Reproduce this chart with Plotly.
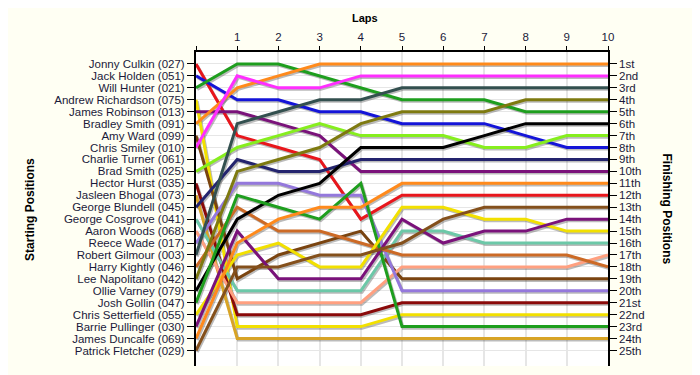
import plotly.graph_objects as go

laps = list(range(11))
lap_labels = ["", "1", "2", "3", "4", "5", "6", "7", "8", "9", "10"]

drivers = ["Jonny Culkin (027)", "Jack Holden (051)", "Will Hunter (021)", "Andrew Richardson (075)",
           "James Robinson (013)", "Bradley Smith (091)", "Amy Ward (099)", "Chris Smiley (010)",
           "Charlie Turner (061)", "Brad Smith (025)", "Hector Hurst (035)", "Jasleen Bhogal (073)",
           "George Blundell (045)", "George Cosgrove (041)", "Aaron Woods (068)", "Reece Wade (017)",
           "Robert Gilmour (003)", "Harry Kightly (046)", "Lee Napolitano (042)", "Ollie Varney (079)",
           "Josh Gollin (047)", "Chris Setterfield (055)", "Barrie Pullinger (030)", "James Duncalfe (069)",
           "Patrick Fletcher (029)"]

finish_labels = ["1st", "2nd", "3rd", "4th", "5th", "6th", "7th", "8th", "9th", "10th", "11th", "12th",
                 "13th", "14th", "15th", "16th", "17th", "18th", "19th", "20th", "21st", "22nd", "23rd",
                 "24th", "25th"]

jonny = [1, 7, 8, 9, 14, 12, 12, 12, 12, 12, 12]
jack = [2, 4, 4, 5, 5, 6, 6, 6, 7, 8, 8]
will = [3, 1, 1, 2, 3, 4, 4, 4, 5, 5, 5]
andrew = [4, 23, 23, 23, 23, 22, 22, 22, 22, 22, 22]
james_r = [5, 5, 6, 7, 10, 10, 10, 10, 10, 10, 10]
bradley = [6, 3, 2, 1, 1, 1, 1, 1, 1, 1, 1]
amy = [7, 19, 17, 16, 15, 19, 19, 19, 19, 19, 19]
chris_sm = [8, 2, 3, 3, 2, 2, 2, 2, 2, 2, 2]
charlie = [9, None, None, None, None, None, None, None, None, None, None]
brad = [10, 8, 7, 6, 7, 7, 7, 8, 8, 7, 7]
hector = [11, 22, 22, 22, 22, 21, 21, 21, 21, 21, 21]
jasleen = [12, 24, 24, 24, 24, 24, 24, 24, 24, 24, 24]
george_bl = [13, 9, 10, 10, 9, 9, 9, 9, 9, 9, 9]
george_co = [14, 20, 20, 20, 20, 15, 15, 16, 16, 16, 16]
aaron = [15, 21, 21, 21, 21, 18, 18, 18, 18, 18, 17]
reece = [16, 11, 11, 12, 12, 20, 20, 20, 20, 20, 20]
robert = [17, 6, 5, 4, 4, 3, 3, 3, 3, 3, 3]
harry = [18, 13, 15, 15, 16, 17, 17, 17, 17, 17, 18]
lee = [19, 10, 9, 8, 6, 5, 5, 5, 4, 4, 4]
ollie = [20, 14, 12, 11, 8, 8, 8, 7, 6, 6, 6]
josh = [21, 12, 13, 14, 11, 23, 23, 23, 23, 23, 23]
chris_se = [22, 17, 16, 18, 18, 13, 13, 14, 14, 15, 15]
barrie = [23, 15, 19, 19, 19, 14, 16, 15, 15, 14, 14]
james_d = [24, 16, 14, 13, 13, 11, 11, 11, 11, 11, 11]
patrick = [25, 18, 18, 17, 17, 16, 14, 13, 13, 13, 13]

series = [jonny, jack, will, andrew, james_r, bradley, amy, chris_sm, charlie, brad, hector, jasleen,
          george_bl, george_co, aaron, reece, robert, harry, lee, ollie, josh, chris_se, barrie,
          james_d, patrick]

colors = ["#E8161C", "#1414D8", "#1E9E1E", "#F2E000", "#7A127A", "#FF8A1C", "#7A4410", "#FF2EFF",
          "#B0B0B0", "#86EE1E", "#8A0A0A", "#D8A426", "#24246E", "#6CC8A8", "#FFA080", "#9478DC",
          "#33504F", "#CC6A26", "#7E7A10", "#000000", "#1E9E1E", "#F2E000", "#7A127A", "#FF8A1C",
          "#84501C"]

fig = go.Figure()

# shadows
for s in series:
    xs = [x + 0.03 for x in laps]
    ys = [None if v is None else v + 0.13 for v in s]
    fig.add_trace(go.Scatter(x=xs, y=ys, mode="lines", line=dict(color="rgba(60,60,60,0.35)", width=3),
                             hoverinfo="skip", showlegend=False))

for name, s, c in zip(drivers, series, colors):
    fig.add_trace(go.Scatter(x=laps, y=s, mode="lines", name=name, line=dict(color=c, width=3),
                             showlegend=False))

# invisible trace to carry the right axis
fig.add_trace(go.Scatter(x=[10] * 25, y=list(range(1, 26)), yaxis="y2", mode="markers",
                         marker=dict(opacity=0), hoverinfo="skip", showlegend=False))

font_tick = dict(family="Liberation Sans, Arial, sans-serif", size=11.5, color="#1a1a3a")

fig.update_layout(
    width=692, height=367,
    margin=dict(l=188, r=92, t=44, b=9),
    paper_bgcolor="#FFFFF3",
    plot_bgcolor="#FFFFFF",
    showlegend=False,
    xaxis=dict(range=[0, 10], side="top", tickvals=laps, ticktext=lap_labels, ticks="outside",
               ticklen=4, tickcolor="black", showline=True, linecolor="black", linewidth=2,
               showgrid=True, gridcolor="#E6E6E6", gridwidth=2, zeroline=False, tickfont=font_tick,
               mirror=False),
    yaxis=dict(range=[26.3, 0], tickvals=list(range(1, 26)), ticktext=drivers, ticks="outside",
               ticklen=7, tickcolor="black", showline=True, linecolor="black", linewidth=2,
               showgrid=True, gridcolor="#E6E6E6", gridwidth=1, zeroline=False, tickfont=font_tick),
    yaxis2=dict(range=[26.3, 0], overlaying="y", side="right", tickvals=list(range(1, 26)),
                ticktext=finish_labels, ticks="outside", ticklen=7, tickcolor="black", showline=True,
                linecolor="black", linewidth=1.5, showgrid=False, zeroline=False, tickfont=font_tick),
    annotations=[
        dict(text="<b>Laps</b>", x=0.41, y=1.108, xref="paper", yref="paper", showarrow=False,
             xanchor="center", yanchor="middle",
             font=dict(family="Liberation Sans, Arial, sans-serif", size=11, color="black")),
        dict(text="<b>Starting Positions</b>", x=-0.403, y=0.5, xref="paper", yref="paper",
             showarrow=False, textangle=-90, xanchor="center", yanchor="middle",
             font=dict(family="Liberation Sans, Arial, sans-serif", size=12, color="black")),
        dict(text="<b>Finishing Positions</b>", x=1.142, y=0.5, xref="paper", yref="paper",
             showarrow=False, textangle=90, xanchor="center", yanchor="middle",
             font=dict(family="Liberation Sans, Arial, sans-serif", size=12, color="black")),
    ],
)

fig.write_html("out.html")
